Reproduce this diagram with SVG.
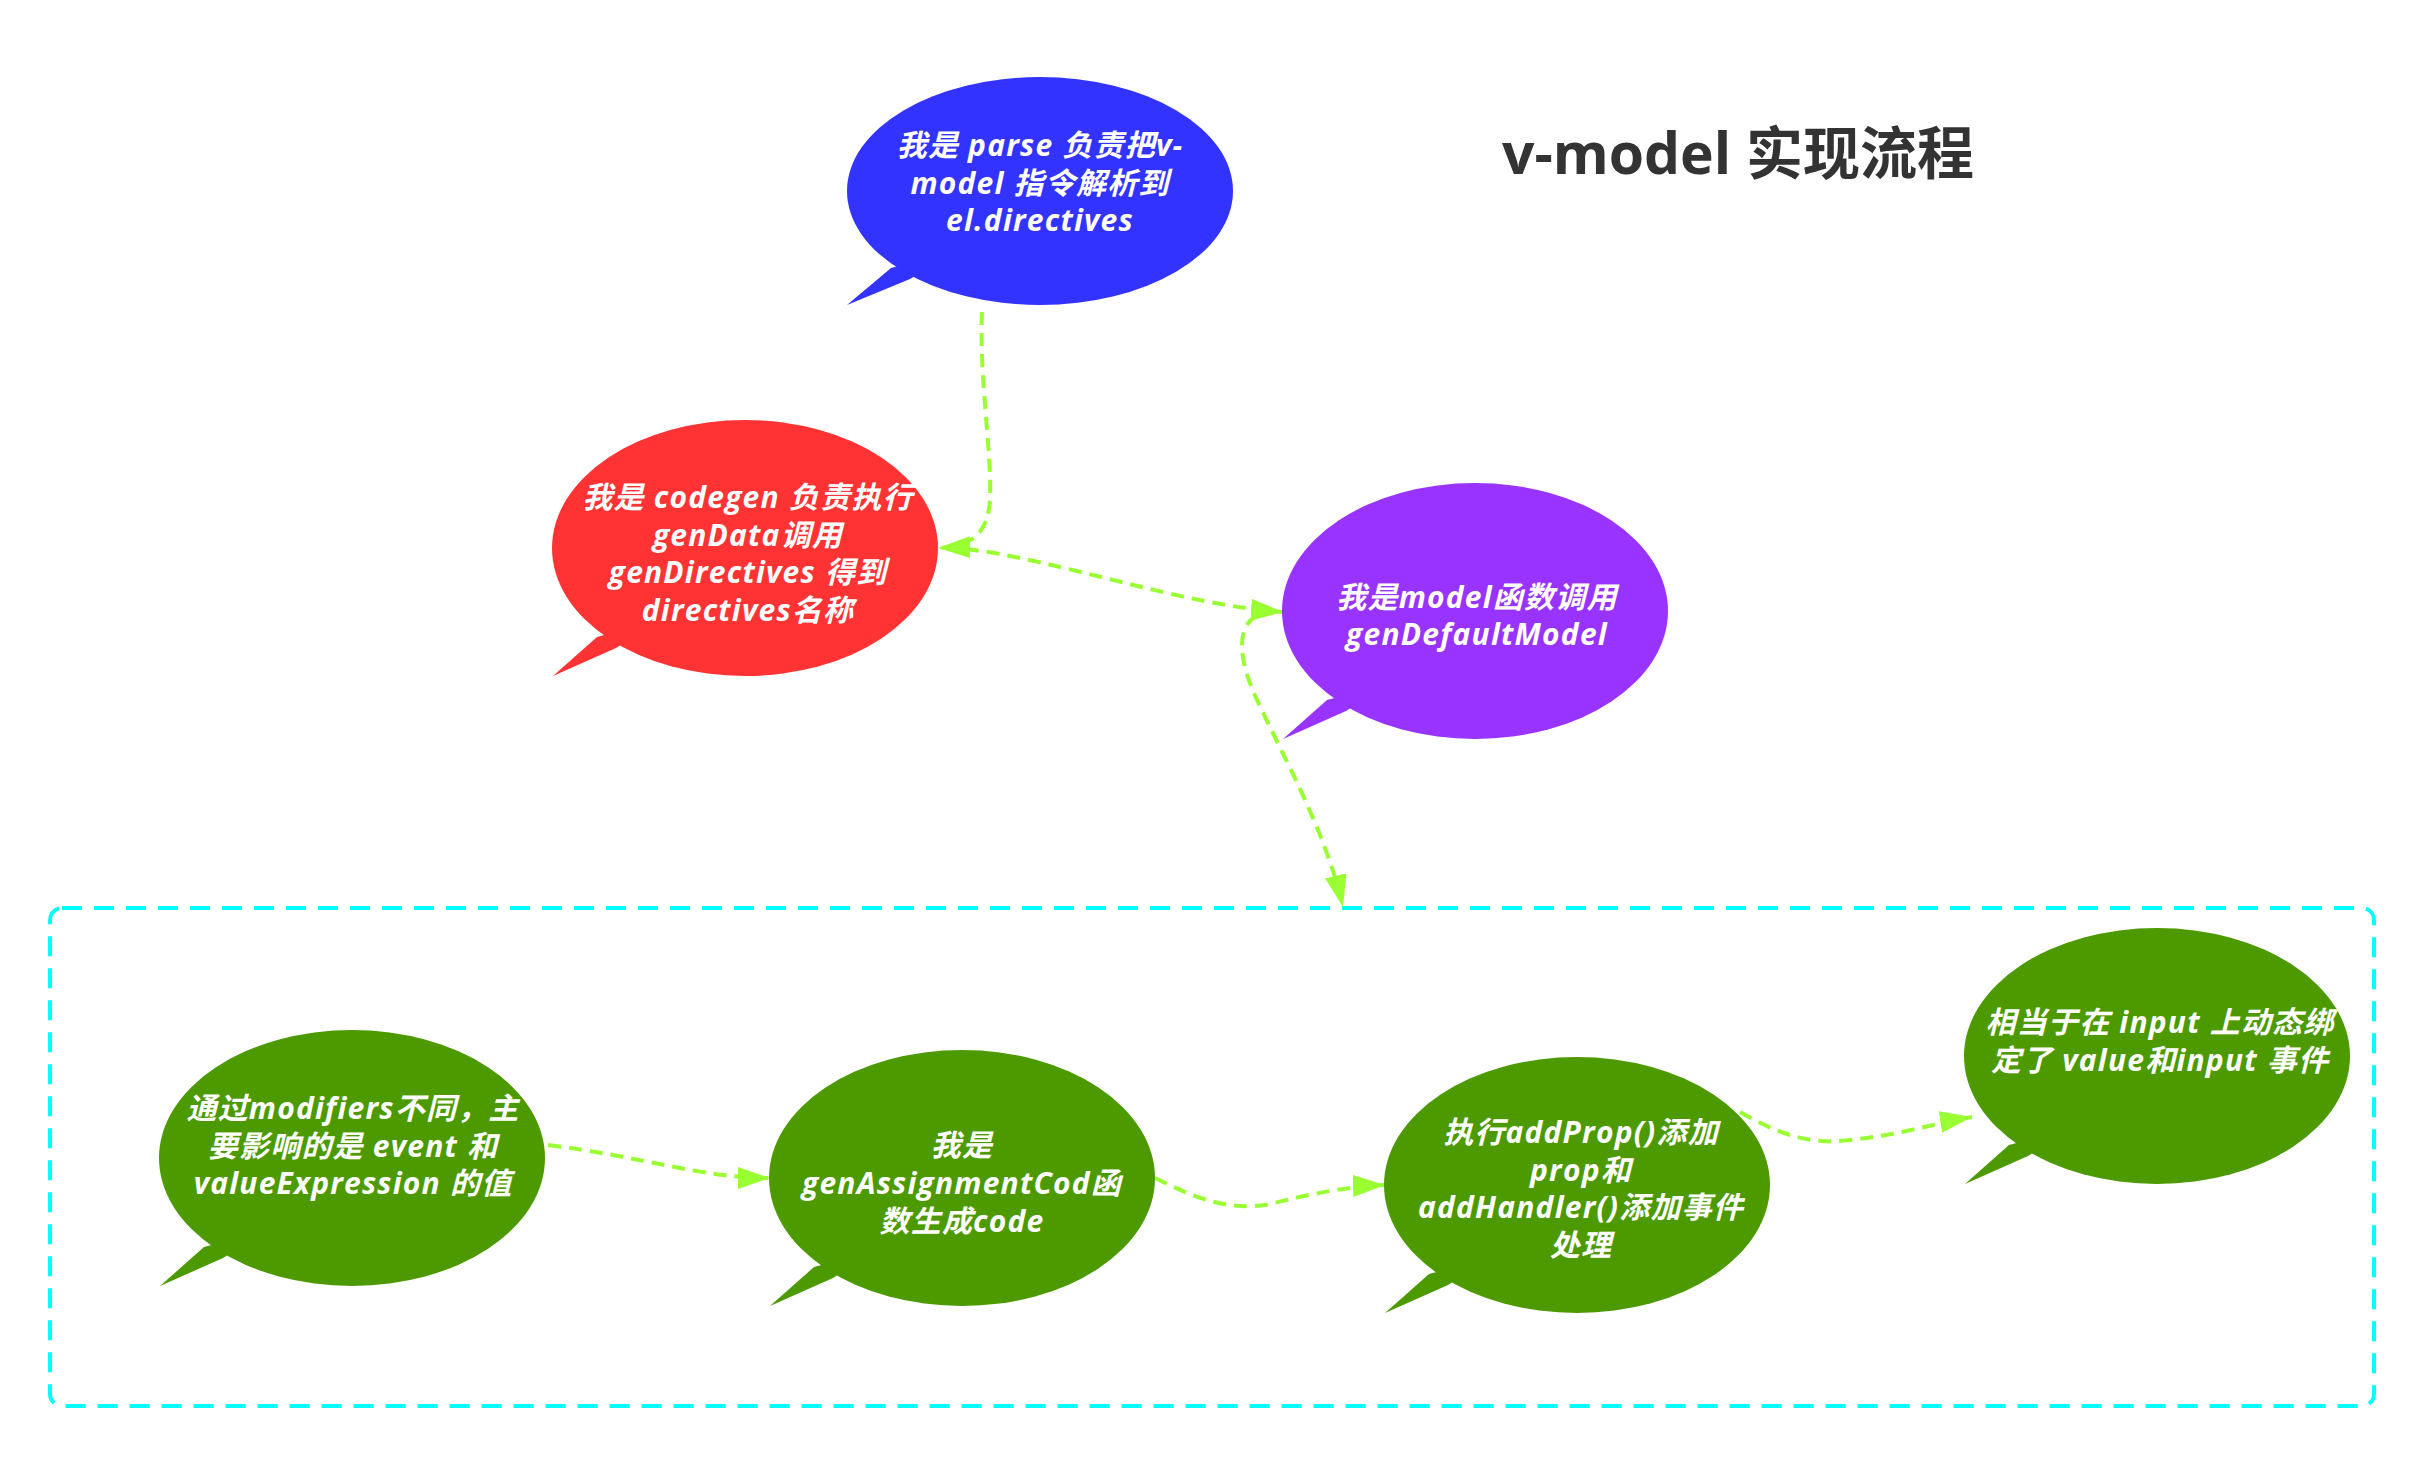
<svg xmlns="http://www.w3.org/2000/svg" width="2424" height="1458" viewBox="0 0 2424 1458">
<style>
.lbl{font-family:"Open Sans","Noto Sans CJK SC",sans-serif;font-size:30px;font-weight:bold;font-style:italic;fill:#ffffff;text-anchor:middle;letter-spacing:1.2px}
.title{font-family:"Open Sans","Noto Sans CJK SC",sans-serif;font-size:57px;font-weight:bold;fill:#333333}
.conn{fill:none;stroke:#99FF33;stroke-width:4;stroke-dasharray:13 8}
.blue{fill:#3333FF}.red{fill:#FF3333}.purple{fill:#9933FF}.green{fill:#4D9900}
</style>
<defs>
<marker id="arr" markerUnits="userSpaceOnUse" markerWidth="32" markerHeight="22" refX="32" refY="11" orient="auto">
<path d="M0,0 L32,11 L0,22 z" fill="#99FF33"/>
</marker>
</defs>
<rect width="2424" height="1458" fill="#ffffff"/>
<text class="title" x="1502" y="174">v-model 实现流程</text>
<rect id="group-box" x="50" y="908" width="2324" height="498" rx="12" fill="none" stroke="#00FFFF" stroke-width="4" stroke-dasharray="20 12"/>
<g id="connectors">
<path class="conn" d="M982 312 C979 380 992 450 990 500 C988 530 975 547 938 548" marker-end="url(#arr)"/>
<path class="conn" d="M966 549 C1060 560 1180 605 1283 612" marker-end="url(#arr)"/>
<path class="conn" d="M1256 616 C1236 628 1238 660 1258 702 C1285 760 1325 830 1343 907" marker-end="url(#arr)"/>
<path class="conn" d="M548 1145 C640 1156 700 1178 770 1178" marker-end="url(#arr)"/>
<path class="conn" d="M1155 1178 C1195 1198 1230 1212 1270 1204 C1310 1194 1350 1186 1385 1185" marker-end="url(#arr)"/>
<path class="conn" d="M1740 1112 C1780 1135 1810 1145 1850 1140 C1900 1135 1940 1122 1972 1117" marker-end="url(#arr)"/>
</g>
<g id="node-parse">
<ellipse class="blue" cx="1040" cy="191" rx="193" ry="114"/>
<polygon class="blue" points="891,268 847,305 910,279 960,250"/>
<text class="lbl"><tspan x="1040" y="156">我是 parse 负责把v-</tspan><tspan x="1040" y="193.5">model 指令解析到</tspan><tspan x="1040" y="231">el.directives</tspan></text>
</g>
<g id="node-codegen">
<ellipse class="red" cx="745" cy="548" rx="193" ry="128"/>
<polygon class="red" points="597,637 553,676 616,648 660,620"/>
<text class="lbl"><tspan x="748" y="508">我是 codegen 负责执行</tspan><tspan x="748" y="545.5">genData调用</tspan><tspan x="748" y="583">genDirectives 得到</tspan><tspan x="748" y="620.5">directives名称</tspan></text>
</g>
<g id="node-model">
<ellipse class="purple" cx="1475" cy="611" rx="193" ry="128"/>
<polygon class="purple" points="1327,700 1283,739 1346,711 1390,683"/>
<text class="lbl"><tspan x="1477" y="608">我是model函数调用</tspan><tspan x="1477" y="645">genDefaultModel</tspan></text>
</g>
<g id="node-modifiers">
<ellipse class="green" cx="352" cy="1158" rx="193" ry="128"/>
<polygon class="green" points="204,1247 160,1286 223,1258 267,1230"/>
<text class="lbl"><tspan x="353" y="1119">通过modifiers不同，主</tspan><tspan x="353" y="1157">要影响的是 event 和</tspan><tspan x="353" y="1194">valueExpression 的值</tspan></text>
</g>
<g id="node-genAssignment">
<ellipse class="green" cx="962" cy="1178" rx="193" ry="128"/>
<polygon class="green" points="814,1267 770,1306 833,1278 877,1250"/>
<text class="lbl"><tspan x="962" y="1156">我是</tspan><tspan x="962" y="1194">genAssignmentCod函</tspan><tspan x="962" y="1232">数生成code</tspan></text>
</g>
<g id="node-addProp">
<ellipse class="green" cx="1577" cy="1185" rx="193" ry="128"/>
<polygon class="green" points="1429,1274 1385,1313 1448,1285 1492,1257"/>
<text class="lbl"><tspan x="1581" y="1143">执行addProp()添加</tspan><tspan x="1581" y="1181">prop和</tspan><tspan x="1581" y="1218">addHandler()添加事件</tspan><tspan x="1581" y="1256">处理</tspan></text>
</g>
<g id="node-input">
<ellipse class="green" cx="2157" cy="1056" rx="193" ry="128"/>
<polygon class="green" points="2009,1145 1965,1184 2028,1156 2072,1128"/>
<text class="lbl"><tspan x="2160" y="1033">相当于在 input 上动态绑</tspan><tspan x="2160" y="1071">定了 value和input 事件</tspan></text>
</g>
</svg>
